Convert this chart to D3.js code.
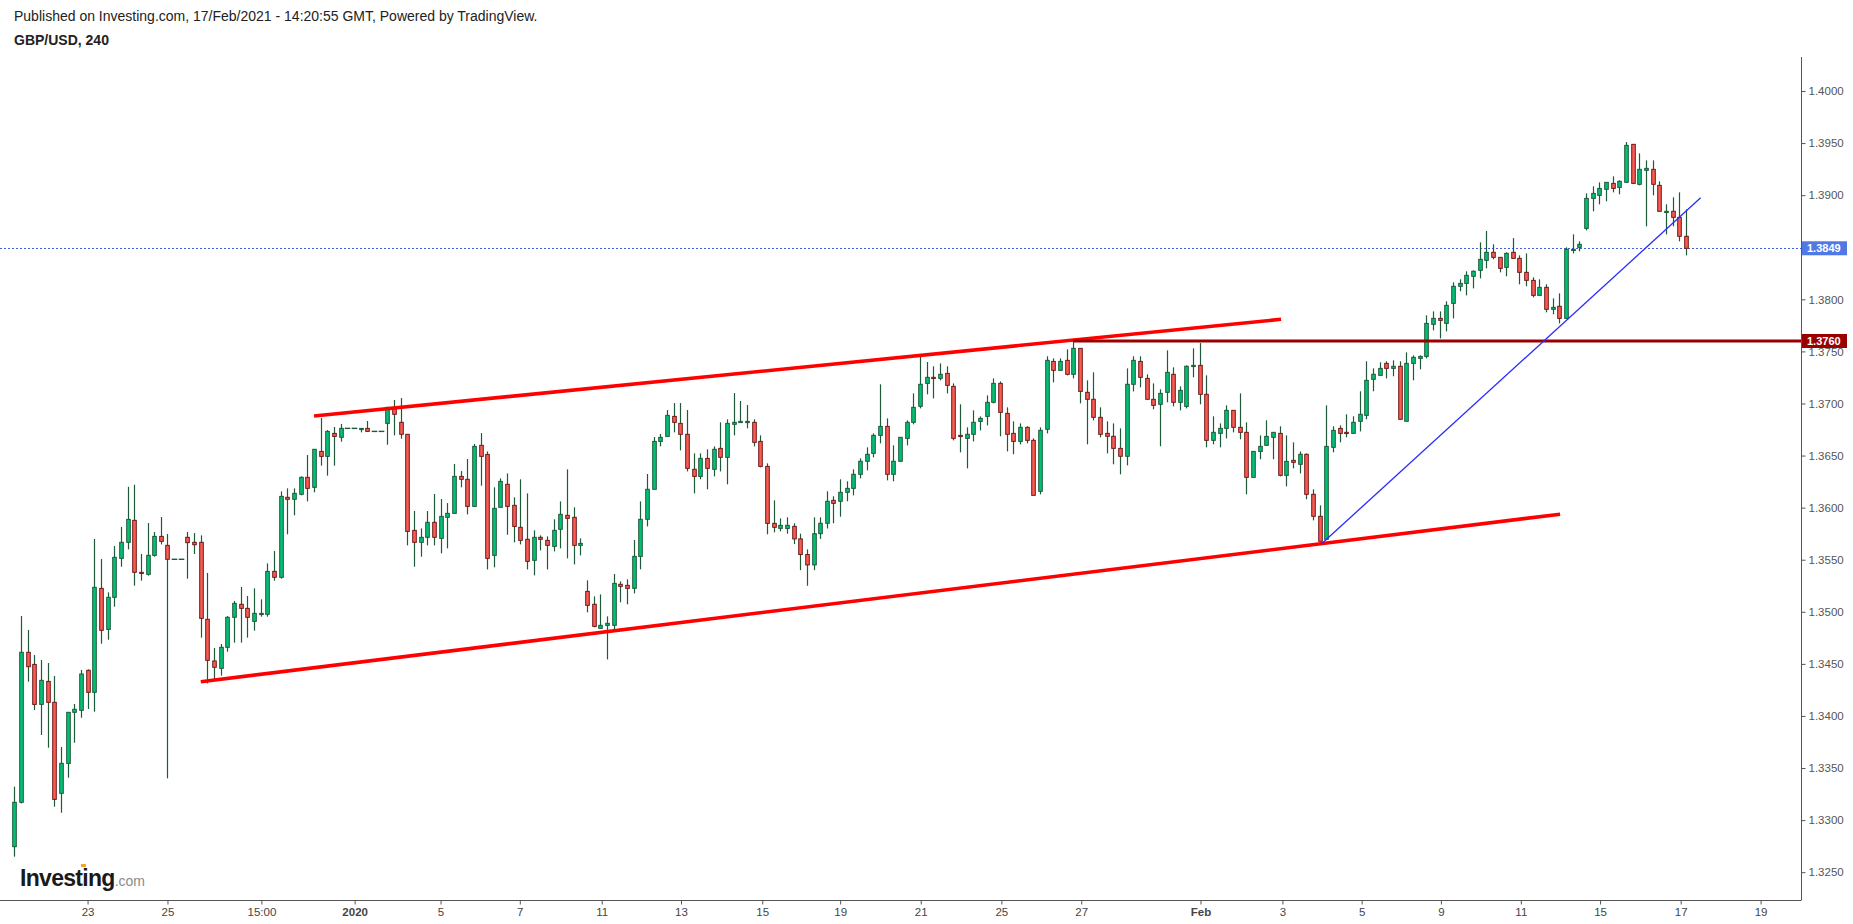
<!DOCTYPE html>
<html><head><meta charset="utf-8">
<script src="https://cdn.jsdelivr.net/npm/d3@7/dist/d3.min.js"></script>
<style>
html,body{margin:0;padding:0;background:#fff;}
svg{display:block;font-family:"Liberation Sans",Arial,sans-serif;}
</style></head>
<body>
<svg id="c" width="1853" height="924"></svg>
<script>
const title = "Published on Investing.com, 17/Feb/2021 - 14:20:55 GMT, Powered by TradingView.";
const symbol = "GBP/USD, 240";

const open = [
1.32745,1.33171,1.34611,1.34495,1.34111,1.34332,1.34131,1.33257,1.33545,1.34035,
1.34054,1.34438,1.34227,1.35225,1.34831,1.35139,1.35513,1.35667,1.35878,1.35379,
1.35360,1.35542,1.35724,1.35638,1.35504,1.35504,1.35715,1.35667,1.35667,1.34928,
1.34528,1.34457,1.34659,1.34947,1.35072,1.35033,1.34908,1.34985,1.34976,1.35388,
1.35331,1.36099,1.36080,1.36128,1.36291,1.36195,1.36540,1.36492,1.36713,1.36675,
1.36761,1.36761,1.36761,1.36761,1.36732,1.36732,1.36809,1.36963,1.36819,1.36704,
1.35782,1.35667,1.35715,1.35859,1.35705,1.35907,1.35945,1.36300,1.36272,1.36012,
1.36598,1.36511,1.35542,1.36003,1.36224,1.36022,1.35811,1.35696,1.35494,1.35715,
1.35686,1.35628,1.35792,1.35926,1.35907,1.35638,1.35196,1.35072,1.34841,1.34870,
1.34870,1.35264,1.35254,1.35225,1.35532,1.35888,1.36176,1.36636,1.36684,1.36876,
1.36809,1.36704,1.36368,1.36300,1.36473,1.36368,1.36569,1.36483,1.36800,1.36819,
1.36828,1.36819,1.36636,1.36396,1.35849,1.35801,1.35800,1.35820,1.35700,1.35550,
1.35450,1.35750,1.35850,1.36070,1.36061,1.36147,1.36185,1.36320,1.36445,1.36521,
1.36694,1.36780,1.36320,1.36445,1.36665,1.36819,1.36973,1.37193,1.37251,1.37241,
1.37289,1.37164,1.36694,1.36665,1.36704,1.36828,1.36876,1.37011,1.37193,1.36905,
1.36713,1.36636,1.36771,1.36646,1.36157,1.36752,1.37404,1.37318,1.37414,1.37280,
1.37529,1.37107,1.37040,1.36867,1.36713,1.36685,1.36569,1.36493,1.37184,1.37404,
1.37241,1.37040,1.36992,1.37107,1.37280,1.37011,1.36972,1.37366,1.37366,1.37088,
1.36646,1.36713,1.36761,1.36934,1.36771,1.36723,1.36291,1.36540,1.36598,1.36675,
1.36713,1.36310,1.36454,1.36416,1.36512,1.36128,1.35917,1.35696,1.36579,1.36761,
1.36723,1.36713,1.36829,1.36886,1.37232,1.37270,1.37385,1.37337,1.37357,1.36829,
1.37385,1.37433,1.37452,1.37760,1.37817,1.37769,1.37961,1.38125,1.38153,1.38221,
1.38278,1.38374,1.38451,1.38403,1.38307,1.38451,1.38393,1.38259,1.38182,1.38038,
1.38115,1.37904,1.37933,1.37817,1.38470,1.38499,1.38681,1.38969,1.38998,1.39056,
1.39113,1.39075,1.39123,1.39488,1.39104,1.39238,1.39248,1.39094,1.38845,1.38845,
1.38787,1.38605];

const high = [
1.33321,1.34959,1.34825,1.34585,1.34537,1.34508,1.34383,1.33702,1.34035,1.34115,
1.34441,1.34447,1.35699,1.35507,1.35187,1.35631,1.35814,1.36200,1.36220,1.35555,
1.35852,1.35766,1.35910,1.35747,1.35504,1.35504,1.35766,1.35756,1.35734,1.35373,
1.34652,1.34691,1.34959,1.35104,1.35238,1.35152,1.35225,1.35120,1.35465,1.35584,
1.36156,1.36185,1.36185,1.36300,1.36505,1.36560,1.36860,1.36745,1.36774,1.36803,
1.36761,1.36761,1.36761,1.36832,1.36732,1.36732,1.36963,1.37033,1.37052,1.36704,
1.35968,1.35801,1.35968,1.36131,1.36083,1.36044,1.36419,1.36352,1.36467,1.36611,
1.36716,1.36540,1.36195,1.36281,1.36329,1.36099,1.36272,1.36137,1.35782,1.35734,
1.35724,1.35888,1.36060,1.36368,1.36003,1.35705,1.35302,1.35148,1.35167,1.34956,
1.35363,1.35292,1.35312,1.35689,1.36060,1.36323,1.36678,1.36707,1.36937,1.37004,
1.37004,1.36937,1.36521,1.36521,1.36560,1.36588,1.36819,1.36848,1.37100,1.37024,
1.36985,1.36848,1.36694,1.36425,1.36070,1.35897,1.35907,1.35850,1.35750,1.35600,
1.35907,1.35907,1.36157,1.36109,1.36272,1.36253,1.36368,1.36473,1.36579,1.36713,
1.37184,1.36857,1.36598,1.36675,1.36838,1.37097,1.37465,1.37398,1.37357,1.37385,
1.37357,1.37193,1.36992,1.36771,1.36934,1.36876,1.37078,1.37241,1.37212,1.36963,
1.36828,1.36809,1.36781,1.36665,1.36771,1.37453,1.37433,1.37433,1.37520,1.37609,
1.37529,1.37222,1.37299,1.36963,1.36829,1.36809,1.36761,1.37337,1.37453,1.37453,
1.37280,1.37193,1.37136,1.37510,1.37347,1.37164,1.37366,1.37529,1.37580,1.37270,
1.36877,1.36809,1.36982,1.36934,1.37097,1.36819,1.36540,1.36694,1.36838,1.36723,
1.36781,1.36694,1.36627,1.36540,1.36521,1.36176,1.36022,1.36982,1.36781,1.36790,
1.36896,1.36877,1.37117,1.37405,1.37337,1.37395,1.37405,1.37414,1.37405,1.37491,
1.37462,1.37462,1.37846,1.37884,1.37884,1.37981,1.38163,1.38192,1.38269,1.38278,
1.38547,1.38656,1.38528,1.38403,1.38451,1.38588,1.38422,1.38441,1.38211,1.38192,
1.38144,1.38009,1.38057,1.38499,1.38624,1.38557,1.39017,1.39085,1.39123,1.39123,
1.39181,1.39142,1.39510,1.39488,1.39401,1.39334,1.39334,1.39133,1.38912,1.38979,
1.39027,1.38864];

const low = [
1.32649,1.33160,1.34329,1.34057,1.33817,1.33695,1.33129,1.33071,1.33407,1.33743,
1.33983,1.34067,1.34041,1.34694,1.34732,1.35049,1.35433,1.35599,1.35251,1.35299,
1.35347,1.35529,1.35647,1.33401,1.35504,1.35504,1.35318,1.35555,1.34752,1.34313,
1.34339,1.34387,1.34617,1.34704,1.34704,1.34752,1.34819,1.34953,1.34953,1.35299,
1.35318,1.35744,1.35926,1.36118,1.36060,1.36147,1.36403,1.36307,1.36403,1.36633,
1.36761,1.36761,1.36723,1.36732,1.36732,1.36732,1.36604,1.36694,1.36662,1.35638,
1.35433,1.35529,1.35638,1.35638,1.35561,1.35609,1.35945,1.36195,1.35935,1.36012,
1.36211,1.35407,1.35427,1.36003,1.35740,1.35667,1.35647,1.35407,1.35350,1.35590,
1.35407,1.35580,1.35609,1.35513,1.35455,1.35542,1.34995,1.34851,1.34841,1.34543,
1.34812,1.35091,1.35072,1.35177,1.35408,1.35820,1.36176,1.36588,1.36684,1.36723,
1.36550,1.36348,1.36137,1.36272,1.36176,1.36300,1.36348,1.36224,1.36694,1.36819,
1.36761,1.36588,1.36387,1.35744,1.35763,1.35772,1.35750,1.35650,1.35400,1.35250,
1.35400,1.35700,1.35800,1.35850,1.35913,1.36061,1.36118,1.36281,1.36358,1.36483,
1.36617,1.36262,1.36253,1.36445,1.36598,1.36800,1.36953,1.37088,1.37049,1.37222,
1.37097,1.36646,1.36531,1.36377,1.36636,1.36742,1.36790,1.37001,1.36685,1.36540,
1.36512,1.36607,1.36617,1.36118,1.36128,1.36713,1.37203,1.37318,1.37270,1.37241,
1.37001,1.36608,1.36838,1.36675,1.36521,1.36416,1.36320,1.36406,1.37116,1.37155,
1.37040,1.36944,1.36589,1.37011,1.36972,1.36934,1.36953,1.37251,1.36992,1.36579,
1.36608,1.36579,1.36665,1.36723,1.36656,1.36128,1.36291,1.36464,1.36598,1.36464,
1.36300,1.36204,1.36377,1.36329,1.36080,1.35878,1.35677,1.35696,1.36531,1.36627,
1.36675,1.36713,1.36732,1.36848,1.37117,1.37270,1.37241,1.37261,1.36848,1.36829,
1.37222,1.37328,1.37433,1.37702,1.37625,1.37692,1.37817,1.38077,1.38038,1.38105,
1.38201,1.38297,1.38384,1.38259,1.38221,1.38393,1.38144,1.38125,1.38019,1.38038,
1.37875,1.37856,1.37769,1.37817,1.38441,1.38461,1.38662,1.38845,1.38912,1.38941,
1.39027,1.39008,1.39123,1.39113,1.39094,1.38701,1.38998,1.38845,1.38624,1.38701,
1.38557,1.38422];

const close = [
1.33171,1.34611,1.34473,1.34111,1.34342,1.34131,1.33199,1.33545,1.34035,1.34064,
1.34403,1.34227,1.35235,1.34822,1.35139,1.35523,1.35667,1.35887,1.35379,1.35369,
1.35542,1.35724,1.35676,1.35504,1.35504,1.35504,1.35664,1.35644,1.34937,1.34534,
1.34467,1.34659,1.34947,1.35081,1.35033,1.34947,1.34985,1.34985,1.35388,1.35331,
1.36108,1.36080,1.36137,1.36291,1.36185,1.36560,1.36492,1.36732,1.36684,1.36761,
1.36761,1.36761,1.36761,1.36732,1.36732,1.36732,1.36963,1.36896,1.36704,1.35772,
1.35667,1.35715,1.35859,1.35715,1.35916,1.35945,1.36300,1.36272,1.36012,1.36588,
1.36492,1.35513,1.35993,1.36252,1.36012,1.35820,1.35686,1.35484,1.35715,1.35696,
1.35638,1.35782,1.35936,1.35897,1.35638,1.35657,1.35062,1.34860,1.34870,1.34889,
1.35273,1.35244,1.35225,1.35532,1.35888,1.36176,1.36636,1.36675,1.36886,1.36819,
1.36704,1.36377,1.36300,1.36473,1.36377,1.36560,1.36483,1.36809,1.36819,1.36828,
1.36828,1.36627,1.36396,1.35849,1.35811,1.35830,1.35830,1.35700,1.35550,1.35450,
1.35750,1.35850,1.36061,1.36041,1.36147,1.36185,1.36320,1.36445,1.36512,1.36694,
1.36780,1.36320,1.36445,1.36675,1.36819,1.36963,1.37184,1.37251,1.37241,1.37280,
1.37174,1.36665,1.36685,1.36704,1.36819,1.36857,1.37011,1.37193,1.36915,1.36704,
1.36636,1.36771,1.36646,1.36118,1.36742,1.37414,1.37318,1.37404,1.37280,1.37529,
1.37116,1.37040,1.36867,1.36704,1.36685,1.36569,1.36493,1.37184,1.37414,1.37251,
1.37040,1.36982,1.37097,1.37299,1.37011,1.37126,1.37357,1.37366,1.37088,1.36646,
1.36723,1.36761,1.36934,1.36771,1.36723,1.36291,1.36540,1.36588,1.36684,1.36723,
1.36310,1.36444,1.36435,1.36512,1.36128,1.35917,1.35677,1.36588,1.36742,1.36713,
1.36713,1.36819,1.36896,1.37222,1.37280,1.37337,1.37337,1.37357,1.36848,1.37385,
1.37443,1.37452,1.37769,1.37817,1.37798,1.37942,1.38125,1.38153,1.38230,1.38269,
1.38384,1.38451,1.38403,1.38297,1.38441,1.38393,1.38259,1.38182,1.38038,1.38115,
1.37904,1.37923,1.37817,1.38480,1.38480,1.38528,1.38969,1.39017,1.39065,1.39123,
1.39065,1.39133,1.39478,1.39113,1.39248,1.39257,1.39104,1.38845,1.38845,1.38787,
1.38605,1.38490];

// right axis ticks
const priceTicks = [1.3250,1.3300,1.3350,1.3400,1.3450,1.3500,1.3550,1.3600,1.3650,1.3700,1.3750,1.3800,1.3850,1.3900,1.3950,1.4000];
// time axis: position in candle index units and label
const timeTickPos = [11.0,23.0,37.1,51.1,64.0,75.9,88.2,100.1,112.3,124.0,136.1,148.2,160.2,178.1,190.4,202.3,214.2,226.2,238.1,250.2,262.2];
const timeTickLabels = ["23","25","15:00","2020","5","7","11","13","15","19","21","25","27","Feb","3","5","9","11","15","17","19"];
const boldLabels = ["2020","Feb"];

// drawings [candle index, price]
const upperChannel = [[45.0,1.36880],[190.2,1.37808]];
const lowerChannel = [[28.0,1.34329],[232.1,1.35937]];
const blueTrend = [[196.2,1.35648],[253.2,1.38975]];
const resistance = {from:159, price:1.3760};
const lastPrice = 1.3849;

const W = 1853, H = 924;
const plotL = 0, plotR = 1801, plotT = 57, plotB = 900;
const svg = d3.select("#c");
svg.append("rect").attr("width",W).attr("height",H).attr("fill","#fff");

const x = d3.scaleLinear().domain([0, 251]).range([14.3, 1686.0]);
const y = d3.scaleLinear().domain([1.3250, 1.4000]).range([872.2, 91.0]);

svg.append("defs").append("clipPath").attr("id","clip")
  .append("rect").attr("x",plotL).attr("y",plotT).attr("width",plotR-plotL).attr("height",plotB-plotT);
const g = svg.append("g").attr("clip-path","url(#clip)");

// current price dotted line
g.append("line").attr("x1",plotL).attr("x2",plotR).attr("y1",Math.round(y(lastPrice))+0.5).attr("y2",Math.round(y(lastPrice))+0.5)
  .attr("stroke","#3f63d9").attr("stroke-width",1).attr("stroke-dasharray","2,2");

// candles
const idx = d3.range(open.length);
const wickCol = "#1e5a3a";
const cg = g.append("g");
const bw = 3.6;
idx.forEach(i=>{
  const o=open[i], c=close[i], h=high[i], l=low[i];
  const cx = Math.round(x(i))+0.5;
  const flat = (h===l);
  if(flat){
    cg.append("line").attr("x1",cx-2.8).attr("x2",cx+2.8).attr("y1",y(o)).attr("y2",y(o))
      .attr("stroke",wickCol).attr("stroke-width",1.4);
    return;
  }
  cg.append("line").attr("x1",cx).attr("x2",cx).attr("y1",y(h)).attr("y2",y(l))
    .attr("stroke",wickCol).attr("stroke-width",1.2);
  const up = c>=o;
  const top = y(Math.max(o,c)), bot = y(Math.min(o,c));
  const hgt = Math.max(bot-top, 1.2);
  cg.append("rect").attr("x",cx-bw/2).attr("y",top).attr("width",bw).attr("height",hgt)
    .attr("fill", up ? "#00c176" : "#fa5c52")
    .attr("stroke", up ? "#1e5a3a" : "#6e1a1a").attr("stroke-width",1);
});

// drawings
function seg(pts, col, w){
  g.append("line").attr("x1",x(pts[0][0])).attr("y1",y(pts[0][1]))
    .attr("x2",x(pts[1][0])).attr("y2",y(pts[1][1]))
    .attr("stroke",col).attr("stroke-width",w).attr("stroke-linecap","butt");
}
seg(upperChannel,"#ff0000",3.6);
seg(lowerChannel,"#ff0000",3.6);
g.append("line").attr("x1",x(resistance.from)).attr("x2",plotR)
  .attr("y1",y(resistance.price)).attr("y2",y(resistance.price))
  .attr("stroke","#990000").attr("stroke-width",3);
seg(blueTrend,"#2a2aff",1.3);

// axes lines
svg.append("line").attr("x1",plotR+0.5).attr("x2",plotR+0.5).attr("y1",plotT).attr("y2",plotB)
  .attr("stroke","#555").attr("stroke-width",1);
svg.append("line").attr("x1",plotL).attr("x2",plotR+0.5).attr("y1",plotB+0.5).attr("y2",plotB+0.5)
  .attr("stroke","#555").attr("stroke-width",1);

// right axis
const ya = d3.axisRight(y).tickValues(priceTicks).tickSize(4).tickPadding(3).tickFormat(d3.format(".4f"));
const yg = svg.append("g").attr("transform",`translate(${plotR+0.5},0)`).call(ya);
yg.select(".domain").remove();
yg.selectAll("line").attr("stroke","#555");
yg.selectAll("text").attr("fill","#555").style("font-size","11.5px").style("font-family","'Liberation Sans',Arial,sans-serif");

// bottom axis
const xa = d3.axisBottom(x).tickValues(timeTickPos).tickSize(4).tickPadding(3)
  .tickFormat((d,i)=>timeTickLabels[i]);
const xg = svg.append("g").attr("transform",`translate(0,${plotB+0.5})`).call(xa);
xg.select(".domain").remove();
xg.selectAll("line").attr("stroke","#555");
xg.selectAll("text").attr("fill","#444").style("font-size","11.5px")
  .style("font-family","'Liberation Sans',Arial,sans-serif")
  .style("font-weight",(d,i)=>boldLabels.includes(timeTickLabels[i])?"bold":"normal");

// price labels on axis
function tag(p, col){
  const yy = y(p);
  svg.append("rect").attr("x",plotR+1).attr("y",yy-7).attr("width",45).attr("height",14).attr("fill",col);
  svg.append("text").attr("x",plotR+6).attr("y",yy+4).attr("fill","#fff")
    .style("font-size","11px").style("font-weight","bold").text(d3.format(".4f")(p));
}
tag(lastPrice,"#5079e6");
tag(resistance.price,"#990000");

// header
svg.append("text").attr("x",14).attr("y",21).attr("fill","#222").style("font-size","14px").text(title);
svg.append("text").attr("x",14).attr("y",45).attr("fill","#222").style("font-size","14px").style("font-weight","bold").text(symbol);

// logo
const logo = svg.append("text").attr("x",20).attr("y",886);
logo.append("tspan").attr("fill","#1a1a1a").style("font-size","23px").style("font-weight","bold").style("letter-spacing","-0.7px").text("Investing");
logo.append("tspan").attr("fill","#8a8a8a").style("font-size","14px").text(".com");
svg.append("rect").attr("x",81).attr("y",864).attr("width",5).attr("height",3).attr("fill","#f5a623");
</script>
</body></html>
